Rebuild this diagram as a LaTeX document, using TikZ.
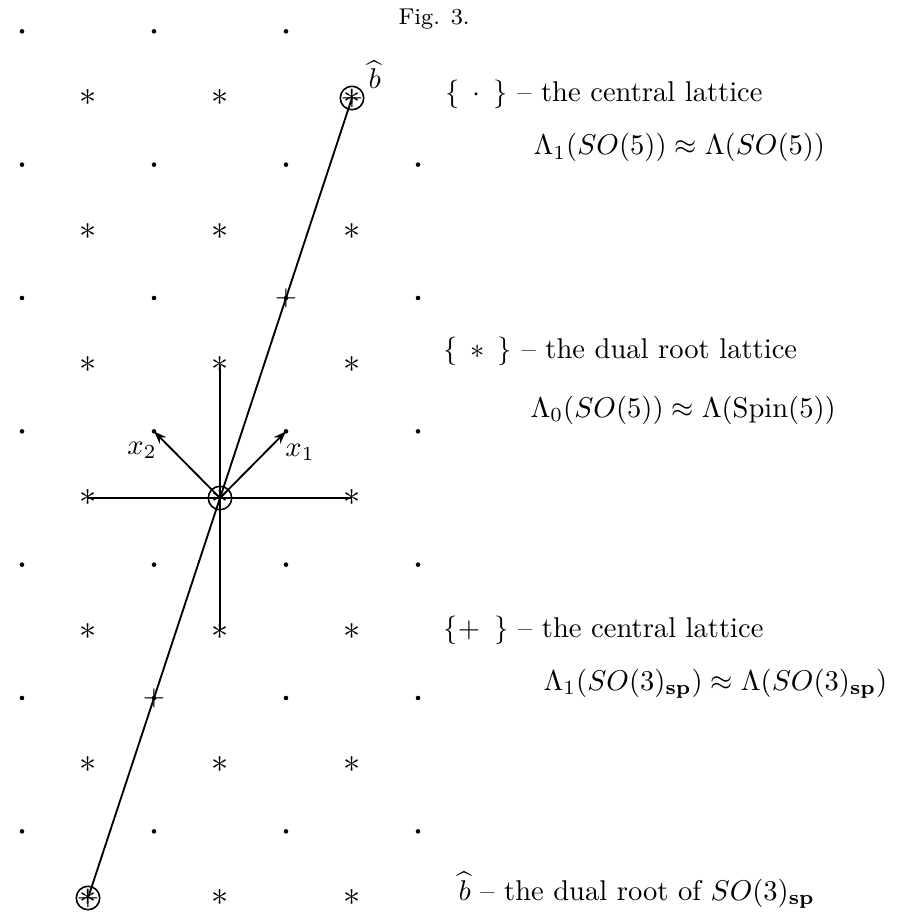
\documentclass[tikz,border=0pt]{standalone}
\usetikzlibrary{arrows.meta}
\begin{document}
\begin{tikzpicture}[x=0.35pt,y=-0.35pt,
  dotm/.style={circle,fill,inner sep=0pt,minimum size=1.6pt},
  starm/.style={inner sep=0pt,font=\fontsize{11.5}{11.5}\selectfont},
  plusm/.style={inner sep=0pt,font=\fontsize{10}{10}\selectfont},
  ring/.style={circle,draw,line width=0.55pt,minimum size=8.2pt,inner sep=0pt},
  axisline/.style={line width=0.65pt},
  vec/.style={line width=0.65pt,-{Stealth[length=4.5pt,width=3.2pt]}},
  lbl/.style={anchor=base west,inner sep=0pt,font=\fontsize{10}{12}\selectfont}]
\useasboundingbox (0,0) rectangle (903,912);
% dual root lattice (stars)
\foreach \i in {-1,0,1}
  \foreach \j in {-3,...,3}
    \node[starm] (s\i\j) at ({220+132*\i},{498+133.33*\j}) {$\ast$};
% central lattice (dots)
\foreach \i in {-2,-1,0,1}
  \foreach \j in {-3,...,2}
    \node[dotm] (d\i\j) at ({220+66*(2*\i+1)},{498+66.67*(2*\j+1)}) {};
\foreach \i in {-2,-1,0}
  \node[dotm] (d\i-4) at ({220+66*(2*\i+1)},{498+66.67*(-7)}) {};
% circled points and pluses
\node[ring] (bt) at (s1-3) {};
\node[ring] (O) at (s00) {};
\node[ring] (bb) at (s-13) {};
\node[plusm] (pbt) at (bt) {$+$};
\node[plusm] (pO) at (O) {$+$};
\node[plusm] (pbb) at (bb) {$+$};
\node[plusm] (pl1) at (d0-2) {$+$};
\node[plusm] (pl2) at (d-11) {$+$};
% axes
\draw[axisline] (s0-1.center) -- (s01.center);
\draw[axisline] (s-10.center) -- (s10.center);
% line of b-hat
\draw[axisline] (bb.center) -- (bt.center);
% vectors
\draw[vec] (O.center) -- (d0-1.center);
\draw[vec] (O.center) -- (d-1-1.center);
\node[font=\fontsize{10}{12}\selectfont] (x1) at (300,452) {$x_1$};
\node[font=\fontsize{10}{12}\selectfont] (x2) at (142,450) {$x_2$};
\node[anchor=base west,inner sep=0pt,font=\fontsize{10}{12}\selectfont] (bl) at (368,89) {$\widehat{b}$};
% title
\node[anchor=base west,inner sep=0pt,font=\fontsize{8}{10}\selectfont] (fig) at (398,25) {Fig. 3.};
% legend
\node[lbl] (t1) at (445,102) {$\{\hspace{4.5pt}\cdot\hspace{4.5pt}\}$ -- the central lattice};
\node[lbl] (t2) at (533,155) {$\Lambda_1(SO(5))\approx\Lambda(SO(5))$};
\node[lbl] (t3) at (443,358) {$\{\hspace{4.5pt}\ast\hspace{4.5pt}\}$ -- the dual root lattice};
\node[lbl] (t4) at (530,417) {$\Lambda_0(SO(5))\approx\Lambda(\mathrm{Spin}(5))$};
\node[lbl] (t5) at (443,637) {$\{+\hspace{5pt}\}$ -- the central lattice};
\node[lbl] (t6) at (543,690) {$\Lambda_1(SO(3)_{\mathbf{sp}})\approx\Lambda(SO(3)_{\mathbf{sp}})$};
\node[lbl] (t7) at (458,900) {$\widehat{b}$ -- the dual root of $SO(3)_{\mathbf{sp}}$};
\end{tikzpicture}
\end{document}
